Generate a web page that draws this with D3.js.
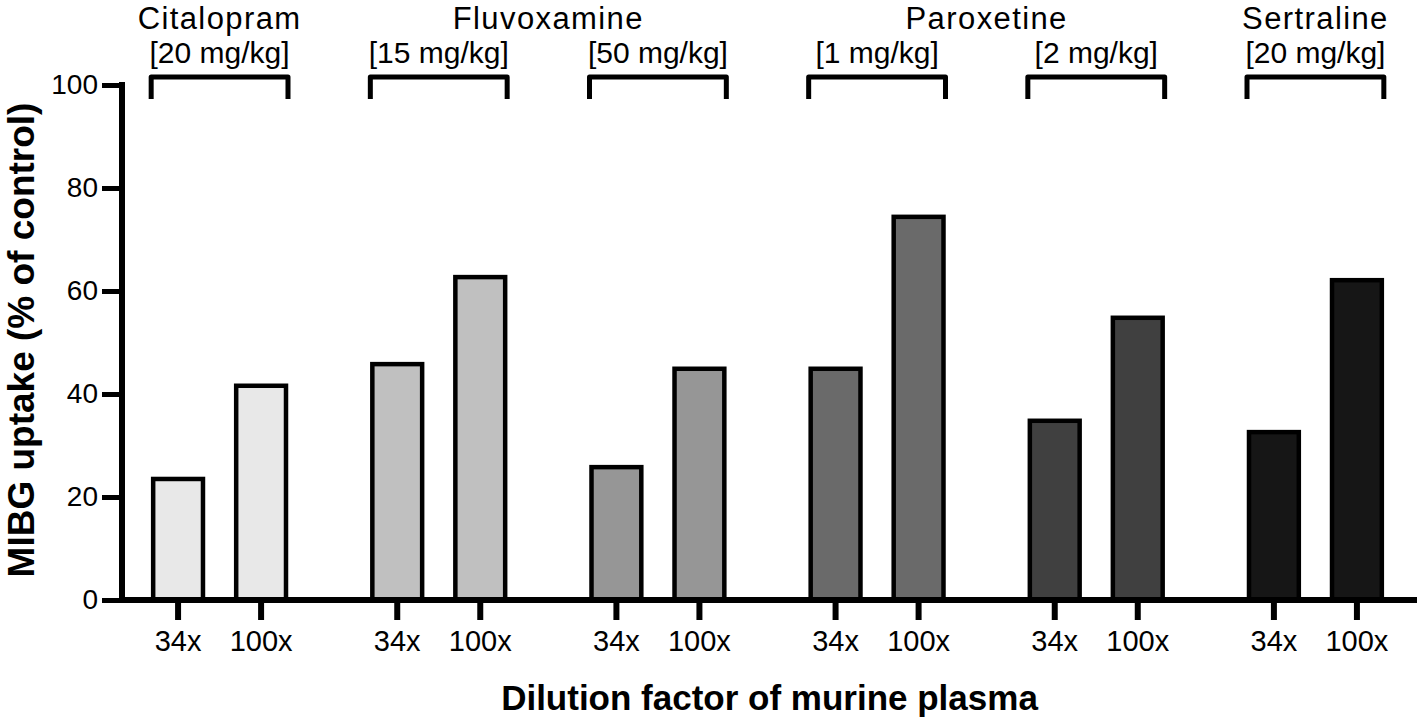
<!doctype html>
<html>
<head>
<meta charset="UTF-8" />
<title>MIBG uptake</title>
<script src="https://d3js.org/d3.v7.min.js"></script>
<style>
  body { margin: 0; background: #fff; }
  text { font-family: "Liberation Sans", Arial, sans-serif; fill: #000; }
</style>
</head>
<body>
<div id="chart"></div>
<script>
// data
const groups = ["cit20", "flu15", "flu50", "par1", "par2", "ser20"];
const doses = ["[20 mg/kg]", "[15 mg/kg]", "[50 mg/kg]", "[1 mg/kg]", "[2 mg/kg]", "[20 mg/kg]"];
const drugs = ["Citalopram", "Fluvoxamine", "Paroxetine", "Sertraline"];
const drugOfGroup = [0, 1, 1, 2, 2, 3];
const dilutions = ["34x", "100x"];
const uptake34 = [23.5, 45.8, 25.8, 44.9, 34.8, 32.6];
const uptake100 = [41.6, 62.7, 44.9, 74.4, 54.8, 62.1];
const yTicks = [0, 20, 40, 60, 80, 100];

const fills = ["#e8e8e8", "#c0c0c0", "#969696", "#6a6a6a", "#404040", "#161616"];

const width = 1417, height = 726;

const svg = d3.select("#chart").append("svg")
    .attr("width", width)
    .attr("height", height);

const y = d3.scaleLinear().domain([0, 100]).range([600, 85]);

const x = d3.scaleBand().domain(groups).range([110, 1425]).padding(0);
const xi = d3.scaleBand().domain(dilutions).range([0, x.bandwidth()])
    .paddingInner(0.4).paddingOuter(0.52);

// bars
const rows = [];
groups.forEach((g, i) => {
  rows.push({ g, i, dil: "34x", v: uptake34[i] });
  rows.push({ g, i, dil: "100x", v: uptake100[i] });
});

svg.append("g")
  .selectAll("rect")
  .data(rows)
  .join("rect")
    .attr("x", d => x(d.g) + xi(d.dil))
    .attr("y", d => y(d.v))
    .attr("width", xi.bandwidth())
    .attr("height", d => y(0) - y(d.v))
    .attr("fill", d => fills[d.i])
    .attr("stroke", "#000")
    .attr("stroke-width", 4.5);

// x axis: line, ticks, labels
svg.append("line")
  .attr("x1", 122).attr("x2", width)
  .attr("y1", y(0)).attr("y2", y(0))
  .attr("stroke", "#000").attr("stroke-width", 6);

svg.append("g")
  .selectAll("line")
  .data(rows)
  .join("line")
    .attr("x1", d => x(d.g) + xi(d.dil) + xi.bandwidth() / 2)
    .attr("x2", d => x(d.g) + xi(d.dil) + xi.bandwidth() / 2)
    .attr("y1", y(0)).attr("y2", y(0) + 20)
    .attr("stroke", "#000").attr("stroke-width", 6);

svg.append("g")
  .selectAll("text")
  .data(rows)
  .join("text")
    .attr("x", d => x(d.g) + xi(d.dil) + xi.bandwidth() / 2)
    .attr("y", 651)
    .attr("text-anchor", "middle")
    .style("font-size", "29px")
    .text(d => d.dil);

// y axis
const yAxis = svg.append("g")
  .attr("transform", "translate(122,0)")
  .call(d3.axisLeft(y).tickValues(yTicks).tickSize(20).tickPadding(4));
yAxis.select(".domain").attr("stroke-width", 6).attr("d", `M0,${y(100) - 3}V${y(0) + 3}`);
yAxis.selectAll(".tick line").attr("stroke-width", 5);
yAxis.selectAll(".tick text")
  .style("font-size", "28px")
  .style("font-family", "'Liberation Sans', Arial, sans-serif")
  .attr("fill", "#000");

// brackets and doses
const bl = g => x(g) + xi("34x") - 2;
const br = g => x(g) + xi("100x") + xi.bandwidth() + 2;

svg.append("g")
  .selectAll("path")
  .data(groups)
  .join("path")
    .attr("d", g => `M${bl(g)},99V77H${br(g)}V99`)
    .attr("fill", "none")
    .attr("stroke", "#000")
    .attr("stroke-width", 5)
    .attr("stroke-linejoin", "round");

svg.append("g")
  .selectAll("text")
  .data(groups)
  .join("text")
    .attr("x", g => x(g) + x.bandwidth() / 2)
    .attr("y", 63)
    .attr("text-anchor", "middle")
    .style("font-size", "30px")
    .text((g, i) => doses[i]);

// drug names centred over their groups
svg.append("g")
  .selectAll("text")
  .data(drugs)
  .join("text")
    .attr("x", (d, k) => d3.mean(groups.filter((g, i) => drugOfGroup[i] === k), g => x(g) + x.bandwidth() / 2))
    .attr("y", 28.5)
    .attr("text-anchor", "middle")
    .style("font-size", "31px")
    .style("letter-spacing", "1.4px")
    .text(d => d);

// axis titles
svg.append("text")
  .attr("transform", `translate(34,340) rotate(-90)`)
  .attr("text-anchor", "middle")
  .style("font-size", "37px")
  .style("font-weight", "bold")
  .text("MIBG uptake (% of control)");

svg.append("text")
  .attr("x", (122 + width) / 2)
  .attr("y", 710)
  .attr("text-anchor", "middle")
  .style("font-size", "35px")
  .style("font-weight", "bold")
  .text("Dilution factor of murine plasma");
</script>
</body>
</html>
